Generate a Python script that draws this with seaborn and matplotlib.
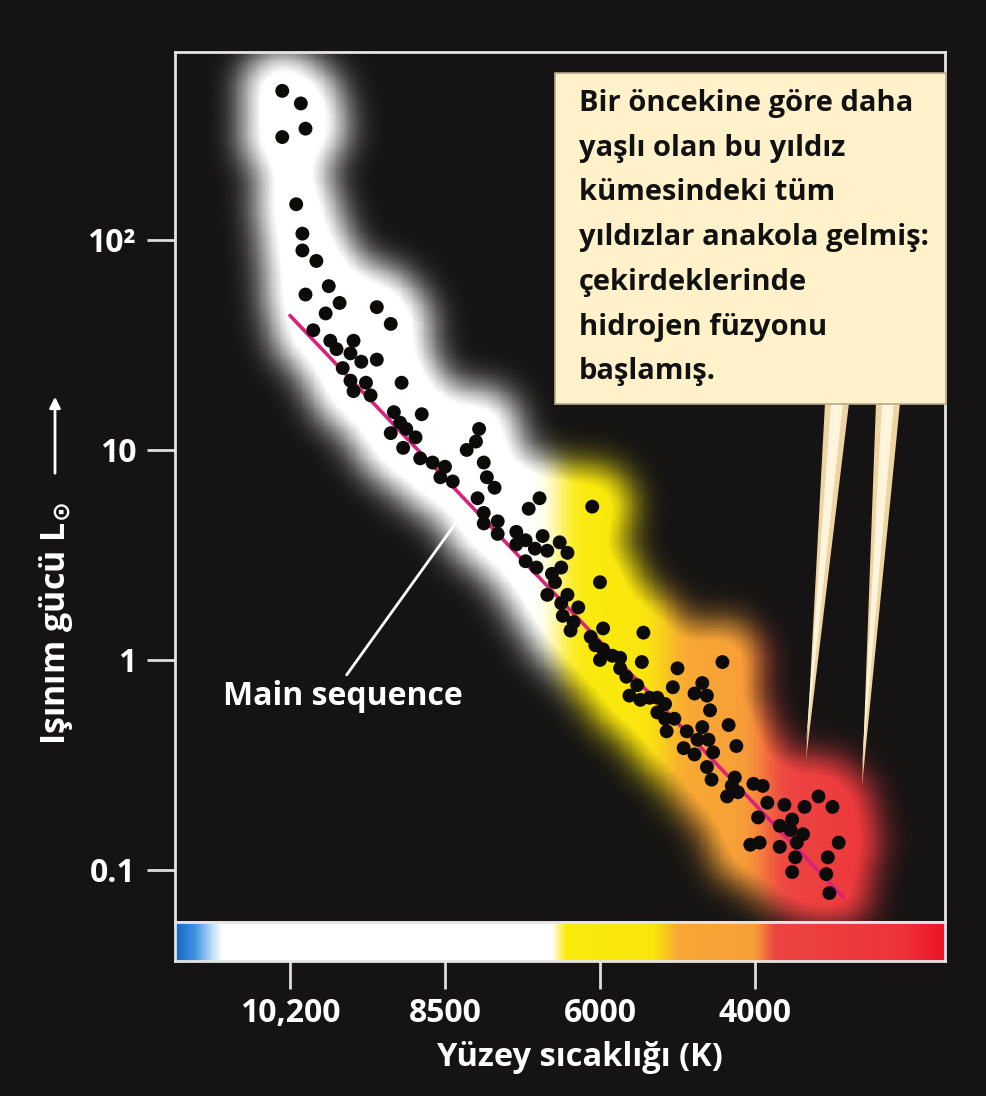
import numpy as np
import matplotlib
matplotlib.use("Agg")
import matplotlib.pyplot as plt
import seaborn as sns
from matplotlib.patches import Rectangle, Polygon, FancyArrowPatch
from matplotlib.ticker import NullLocator

# ---------------- data ----------------
# x position on the temperature axis: 0 -> 10,200 K, 1 -> 8500 K, 2 -> 6000 K, 3 -> 4000 K
temp_pos = [
    -0.05, 0.07, 0.10, -0.05, 0.04, 0.08, 0.08, 0.17, 0.25, 0.10, 0.32, 0.56, 0.23, 0.65,
    0.15, 0.26, 0.41, 0.30, 0.39, 0.46, 0.56, 0.34, 0.39, 0.49, 0.72, 0.41, 0.52,
    0.67, 0.85, 0.71, 0.65, 0.75, 0.81, 1.22, 1.20, 1.14, 0.73, 0.84, 0.92, 1.00, 0.97,
    1.05, 1.25, 1.27, 1.32, 1.21, 1.61, 1.54, 1.25, 1.25, 1.34, 1.34, 1.46, 1.46, 1.52,
    1.63, 1.58, 1.66, 1.74, 1.79, 1.52, 1.59, 1.75, 1.69,
    1.95, 1.71, 2.00, 1.66, 1.79, 1.75, 1.86, 1.76, 1.83, 1.81, 2.02, 2.28, 1.94, 1.97,
    2.02, 2.08, 2.13, 2.00, 2.27, 2.13, 2.50, 2.79, 2.17, 2.24, 2.47, 2.66, 2.61, 2.69,
    2.19, 2.26, 2.32, 2.37, 2.42, 2.71, 2.37, 2.42, 2.48, 2.83, 2.43, 2.56, 2.66, 2.63,
    2.70, 2.54, 2.88, 2.61, 2.73,
    2.69, 2.72, 2.87, 2.85, 2.82, 2.89, 2.99, 3.05, 3.08, 3.19, 3.32, 3.41, 3.50, 3.02,
    3.16, 3.24, 3.23, 3.31, 3.27, 2.97, 3.03, 3.16, 3.54, 3.26, 3.47, 3.24, 3.46, 3.48,
]
log_L = [
    2.71, 2.65, 2.53, 2.49, 2.17, 2.03, 1.95, 1.90, 1.78, 1.74, 1.70, 1.68, 1.65, 1.60,
    1.57, 1.52, 1.52, 1.48, 1.46, 1.42, 1.43, 1.39, 1.33, 1.32, 1.32, 1.28, 1.26,
    1.18, 1.17, 1.13, 1.08, 1.10, 1.06, 1.10, 1.04, 1.00, 1.01, 0.96, 0.94, 0.92, 0.87,
    0.85, 0.94, 0.87, 0.82, 0.77, 0.77, 0.72, 0.70, 0.65, 0.66, 0.60, 0.61, 0.55, 0.57,
    0.59, 0.53, 0.52, 0.56, 0.51, 0.47, 0.44, 0.44, 0.41,
    0.73, 0.37, 0.37, 0.31, 0.31, 0.27, 0.25, 0.21, 0.18, 0.14, 0.15, 0.13, 0.11, 0.07,
    0.05, 0.02, 0.01, 0.00, -0.01, -0.04, -0.04, -0.01, -0.08, -0.12, -0.13, -0.11, -0.16, -0.17,
    -0.17, -0.19, -0.18, -0.18, -0.21, -0.24, -0.25, -0.28, -0.28, -0.31, -0.34, -0.34, -0.32, -0.38,
    -0.38, -0.42, -0.41, -0.45, -0.44,
    -0.51, -0.57, -0.56, -0.60, -0.65, -0.63, -0.59, -0.60, -0.68, -0.69, -0.70, -0.65, -0.70, -0.75,
    -0.79, -0.76, -0.81, -0.83, -0.87, -0.88, -0.87, -0.89, -0.87, -0.94, -0.94, -1.01, -1.02, -1.11,
]
luminosity = [10 ** v for v in log_L]

# main-sequence reference line
ms_pos = [0.00, 3.57]
ms_lum = [10 ** 1.64, 10 ** -1.13]

# axes ticks
temp_tick_pos = [0, 1, 2, 3]
temp_tick_labels = ["10,200", "8500", "6000", "4000"]
lum_ticks = [100, 10, 1, 0.1]
lum_tick_labels = ["10²", "10", "1", "0.1"]

callout_lines = [
    "Bir öncekine göre daha",
    "yaşlı olan bu yıldız",
    "kümesindeki tüm",
    "yıldızlar anakola gelmiş:",
    "çekirdeklerinde",
    "hidrojen füzyonu",
    "başlamış.",
]

# ---------------- style ----------------
sns.set_theme(style="dark")
BG = "#151313"
plt.rcParams.update({
    "font.family": ["Open Sans", "DejaVu Sans"],
    "font.weight": "bold",
    "mathtext.fontset": "dejavusans",
    "figure.facecolor": BG,
    "axes.facecolor": BG,
})

W, H = 986, 1096
fig = plt.figure(figsize=(W / 100, H / 100), dpi=100)


def fx(px):
    return px / W


def fy(py):
    return 1 - py / H


L0, R0, T0, B0, CB = 175, 945, 52, 922, 961
ax = fig.add_axes([fx(L0), fy(B0), fx(R0) - fx(L0), fy(T0) - fy(B0)])
cax = fig.add_axes([fx(L0), fy(CB), fx(R0) - fx(L0), fy(B0) - fy(CB)])

xlim = (-0.742, 4.226)
ylog = (-1.248, 2.895)

# colour stops of the temperature strip (x position -> rgb)
stop_x = [-0.742, -0.613, -0.503, -0.439, 1.69, 1.78, 2.35, 2.50, 3.00, 3.13, 3.93, 4.226]
stop_rgb = np.array([
    (0.08, 0.40, 0.76), (0.25, 0.58, 0.88), (0.75, 0.87, 0.97), (1, 1, 1), (1, 1, 1),
    (0.98, 0.92, 0.05), (0.98, 0.90, 0.05), (0.97, 0.66, 0.20), (0.97, 0.62, 0.22),
    (0.93, 0.27, 0.26), (0.93, 0.20, 0.23), (0.93, 0.08, 0.16),
])


def strip_colors(xs):
    return np.stack([np.interp(xs, stop_x, stop_rgb[:, k]) for k in range(3)], axis=-1)


def gauss_kernel(sig):
    n = int(3 * sig)
    k = np.exp(-0.5 * (np.arange(-n, n + 1) / sig) ** 2)
    return k / k.sum()


def blur(a, sx, sy):
    kx, ky = gauss_kernel(sx), gauss_kernel(sy)
    a = np.apply_along_axis(lambda r: np.convolve(r, kx, mode="same"), 1, a)
    a = np.apply_along_axis(lambda c: np.convolve(c, ky, mode="same"), 0, a)
    return a


# ---------------- glow behind the stars ----------------
nx, ny = 420, 460
xe = np.linspace(xlim[0], xlim[1], nx + 1)
ye = np.linspace(ylog[0], ylog[1], ny + 1)
xc = 0.5 * (xe[1:] + xe[:-1])
yc = 0.5 * (ye[1:] + ye[:-1])
GX, GY = np.meshgrid(xc, yc)
px_per_x = (R0 - L0) / (xlim[1] - xlim[0])
px_per_dec = (B0 - T0) / (ylog[1] - ylog[0])
cell_x = (R0 - L0) / nx
cell_y = (B0 - T0) / ny
d = np.full(GX.shape, 1e9)
for xp, yp in zip(temp_pos, log_L):
    d = np.minimum(d, np.hypot((GX - xp) * px_per_x, (GY - yp) * px_per_dec))
mask = (d < 40.0).astype(float)
sig_px = 17.0
inten = np.clip(blur(mask, sig_px / cell_x, sig_px / cell_y) * 1.2, 0, 1)
bg_rgb = np.array(matplotlib.colors.to_rgb(BG))
col = strip_colors(xc)
pad = 60
col = np.stack([np.convolve(np.pad(col[:, k], pad, mode="edge"), gauss_kernel(12 / cell_x),
                            mode="same")[pad:-pad] for k in range(3)], axis=-1)
rgb = bg_rgb[None, None, :] * (1 - inten[..., None]) + col[None, :, :] * inten[..., None]
rgb = np.clip(rgb, 0.0, 1.0)
ax.pcolormesh(xe, 10 ** ye, rgb, shading="flat", antialiased=False, rasterized=True, zorder=0)

# ---------------- marks ----------------
sns.lineplot(x=ms_pos, y=ms_lum, color="#D8237A", linewidth=2.6, ax=ax, zorder=3)
sns.scatterplot(x=temp_pos, y=luminosity, color="#0d0a0a", s=100, edgecolor="none",
                linewidth=0, ax=ax, zorder=4)

ax.set_yscale("log")
ax.set_xlim(*xlim)
ax.set_ylim(10 ** ylog[0], 10 ** ylog[1])
ax.set_xticks([])
ax.set_yticks(lum_ticks)
ax.set_yticklabels(lum_tick_labels)
ax.yaxis.set_minor_locator(NullLocator())
ax.tick_params(axis="y", length=20, width=2, color="#DDDDDD", pad=8, labelsize=23,
               labelcolor="white", left=True)
ax.set_xlabel("")
ax.set_ylabel("")
for s in ax.spines.values():
    s.set_color("#E4E4E4")
    s.set_linewidth(2)
    s.set_visible(True)

# Main sequence label
ax.annotate("Main sequence", xy=(1.13, 10 ** 0.714), xytext=(0.34, 10 ** -0.176),
            ha="center", va="center", color="white", fontsize=23, fontweight="bold",
            arrowprops=dict(arrowstyle="-", color="white", lw=2, shrinkA=2, shrinkB=0,
                            relpos=(0.5, 1.0)), zorder=5)

# ---------------- temperature strip ----------------
sx = np.linspace(xlim[0], xlim[1], 800)
cax.imshow(strip_colors(sx)[None, :, :], extent=[xlim[0], xlim[1], 0, 1], aspect="auto",
           interpolation="bilinear")
cax.set_xlim(*xlim)
cax.set_ylim(0, 1)
cax.set_yticks([])
cax.set_xticks(temp_tick_pos)
cax.set_xticklabels(temp_tick_labels)
cax.tick_params(axis="x", length=20, width=2, color="#DDDDDD", pad=6, labelsize=23,
                labelcolor="white", bottom=True)
for s in cax.spines.values():
    s.set_color("#E4E4E4")
    s.set_linewidth(2)
    s.set_visible(True)

fig.text(fx(580), fy(1057), "Yüzey sıcaklığı (K)", ha="center", va="center",
         color="white", fontsize=23.5, fontweight="bold")
fig.text(fx(56), fy(624), "Işınım gücü L$_{\\odot}$", ha="center", va="center",
         rotation=90, color="white", fontsize=24.5, fontweight="bold")
fig.add_artist(FancyArrowPatch((fx(55), fy(476)), (fx(55), fy(394)),
                               transform=fig.transFigure, arrowstyle="-|>",
                               mutation_scale=16, color="white", lw=2))

# ---------------- callout ----------------
for pts, fc in [
    ([(825, 403), (849, 403), (806, 760)], "#EFD3A0"),
    ([(831, 403), (843, 403), (806, 745)], "#FFF4DC"),
    ([(876, 403), (900, 403), (862, 786)], "#EFD3A0"),
    ([(882, 403), (894, 403), (862, 770)], "#FFF4DC"),
]:
    fig.add_artist(Polygon([(fx(a), fy(b)) for a, b in pts], closed=True,
                           transform=fig.transFigure, fc=fc, ec="none", zorder=5))
fig.add_artist(Rectangle((fx(555), fy(404)), fx(946) - fx(555), fy(73) - fy(404),
                         transform=fig.transFigure, fc="#FFF1CA", ec="#B8A988", lw=1.2,
                         zorder=6))
for i, line in enumerate(callout_lines):
    fig.text(fx(579), fy(111 + 44.7 * i), line, ha="left", va="baseline", color="#111111",
             fontsize=21, fontweight="bold", zorder=7)

fig.savefig("out.png", dpi=100, facecolor=BG)
